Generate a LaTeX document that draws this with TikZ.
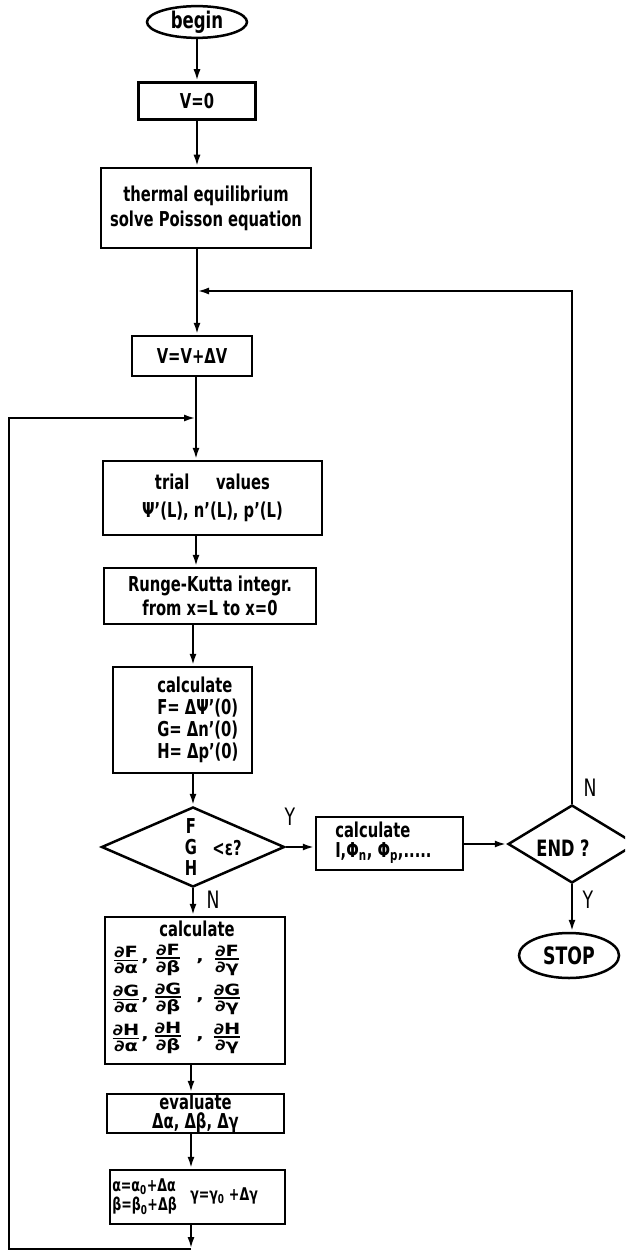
\documentclass[tikz,border=0pt]{standalone}
\usepackage{fontspec}
\setmainfont{DejaVu Sans}[FakeStretch=0.72]
\newfontfamily\fracfont{DejaVu Sans}[FakeStretch=1.25]
\usetikzlibrary{shapes.geometric,arrows.meta}
\newcommand\myfrac[2]{$\mbox{∂#1}\above 1.8pt\mbox{∂#2}$}
\begin{document}
\begin{tikzpicture}[x=1pt,y=-1pt,
  line width=2.5pt,
  >={Latex[length=12pt,width=7pt]},
  bfont/.style={font=\bfseries\fontsize{20.5}{24}\selectfont},
  box/.style={draw, rectangle, inner sep=0pt, align=center, bfont},
  term/.style={draw, ellipse, inner sep=0pt, font=\bfseries\fontsize{23}{24}\selectfont},
  dec/.style={draw, diamond, inner sep=0pt},
  txt/.style={inner sep=0pt, bfont},
  frc/.style={inner sep=0pt, font=\fracfont\bfseries\fontsize{15.5}{17}\selectfont},
  lbl/.style={inner sep=0pt, font=\fontsize{24}{24}\selectfont}]
\useasboundingbox (0,0) rectangle (625,1252);
\clip (0,0) rectangle (625,1252);

% main column
\node[term, minimum width=100pt, minimum height=31pt] (begin) at (197,22) {begin};
\node[box, minimum width=117pt, minimum height=37pt] (v0) at (197,101) {V=0};
\node[box, minimum width=210pt, minimum height=80pt] (therm) at (206,208)
  {thermal equilibrium\\[1pt]solve Poisson equation};
\coordinate (j1) at (197,291);
\node[box, minimum width=120pt, minimum height=40pt] (vinc) at (192,356) {V=V+ΔV};
\coordinate (j2) at (196,418);
\node[box, minimum width=219pt, minimum height=74pt] (trial) at (212.5,498)
  {trial\hspace{1.3em}values\\[4pt]Ψ'(L), n'(L), p'(L)};
\node[box, minimum width=212pt, minimum height=56pt] (rk) at (210,596)
  {Runge-Kutta integr.\\from x=L to x=0};
\node[box, minimum width=139pt, minimum height=106pt] (calcF) at (182.5,720) {};
\node[txt, align=left, anchor=west, font=\bfseries\fontsize{20.5}{22}\selectfont] (calcFt) at (156,720)
  {calculate\\F= ΔΨ'(0)\\G= Δn'(0)\\H= Δp'(0)};

% decision 1
\node[dec, minimum width=183pt, minimum height=80pt] (d1) at (193,847) {};
\node[txt, align=center, font=\bfseries\fontsize{20.5}{21}\selectfont] (fgh) at (191,847) {F\\G\\H};
\node[txt] (eps) at (227,848) {<ε?};
\node[lbl] (ly1) at (290,817) {Y};
\node[lbl] (ln1) at (213,900) {N};

% right branch
\node[box, minimum width=147pt, minimum height=53pt] (calcI) at (389.5,843.5) {};
\node[txt, align=left, anchor=west, font=\bfseries\fontsize{20.5}{20}\selectfont] (calcIt) at (334,843)
  {calculate\\I,Φ\textsubscript{n}, Φ\textsubscript{p},.....};
\node[dec, minimum width=128pt, minimum height=78pt] (end) at (572,844) {};
\node[txt, font=\bfseries\fontsize{22.5}{24}\selectfont] (endt) at (563,848) {END ?};
\node[lbl] (ln2) at (590,788) {N};
\node[lbl] (ly2) at (588,900) {Y};
\node[term, minimum width=100pt, minimum height=45pt, font=\bfseries\fontsize{24}{24}\selectfont] (stop) at (569,955.5) {STOP};

% partial derivatives
\node[box, minimum width=180pt, minimum height=147pt] (calcP) at (195,990.5) {};
\node[txt, font=\bfseries\fontsize{20.5}{20}\selectfont] (calcPt) at (197,929) {calculate};
\foreach \r/\yy in {F/960,G/999,H/1038}{
  \foreach \c/\xx in {α/126,β/168,γ/227}{
    \node[frc] (p-\r-\xx) at (\xx,\yy) {\myfrac{\r}{\c}};
  }
  \node[frc] (c1-\r) at (145,\yy+1) {,};
  \node[frc] (c2-\r) at (200,\yy+1) {,};
}

\node[box, minimum width=177pt, minimum height=39pt, font=\bfseries\fontsize{20.5}{19}\selectfont] (eval) at (195.5,1113.5)
  {evaluate\\Δα, Δβ, Δγ};
\node[box, minimum width=175pt, minimum height=54pt] (alpha) at (197.5,1197) {};
\node[txt, anchor=west, font=\bfseries\fontsize{17.5}{17}\selectfont] (al1) at (111,1187) {α=α\textsubscript{0}+Δα};
\node[txt, anchor=west, font=\bfseries\fontsize{17.5}{17}\selectfont] (al2) at (111,1206) {β=β\textsubscript{0}+Δβ};
\node[txt, anchor=west, font=\bfseries\fontsize{17.5}{17}\selectfont] (al3) at (189,1196) {γ=γ\textsubscript{0} +Δγ};

\coordinate (b1) at (191,1249);
\coordinate (b2) at (9,1249);

% connectors
\draw[->] (begin.south) -- (v0.north);
\draw[->] (v0.south) -- (therm.north -| v0.south);
\draw[->] (therm.south -| j1) -- (vinc.north -| j1);
\draw[->] (end.north) |- (j1);
\draw[->] (vinc.south -| j2) -- (trial.north -| j2);
\draw[->] (trial.south -| j2) -- (rk.north -| j2);
\draw[->] (rk.south -| d1) -- (calcF.north -| d1);
\draw[->] (calcF.south -| d1) -- (d1.north);
\draw[->] (d1.south) -- (calcP.north -| d1.south);
\draw[->] (d1.east) -- (d1.east -| calcI.west);
\draw[->] (end.west -| calcI.east) -- (end.west);
\draw[->] (end.south) -- (stop.north -| end.south);
\draw[->] (calcP.south -| b1) -- (eval.north -| b1);
\draw[->] (eval.south -| b1) -- (alpha.north -| b1);
\draw[->] (alpha.south -| b1) -- (b1);
\draw[->] (b1) -- (b2) |- (j2);
\end{tikzpicture}
\end{document}
